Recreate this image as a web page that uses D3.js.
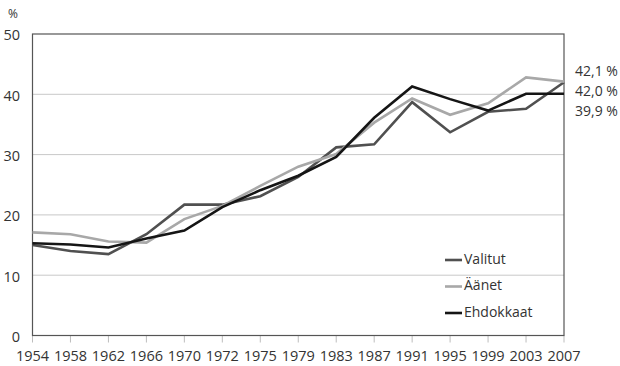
<!DOCTYPE html>
<html>
<head>
<meta charset="utf-8">
<script src="https://cdn.jsdelivr.net/npm/d3@7"></script>
<style>
  html, body { margin: 0; padding: 0; background: #fff; }
  svg { display: block; font-family: "Open Sans", "Noto Sans", sans-serif; }
</style>
</head>
<body>
<svg id="chart" width="620" height="366"></svg>
<script>
const years = ['1954','1958','1962','1966','1970','1972','1975','1979','1983','1987','1991','1995','1999','2003','2007'];
const valitut   = [15.0, 14.0, 13.5, 16.8, 21.7, 21.7, 23.1, 26.3, 31.2, 31.7, 38.7, 33.7, 37.1, 37.6, 42.0];
const aanet     = [17.1, 16.8, 15.6, 15.4, 19.3, 21.5, 24.8, 28.0, 30.1, 35.3, 39.3, 36.6, 38.5, 42.8, 42.1];
const ehdokkaat = [15.3, 15.1, 14.6, 16.1, 17.4, 21.3, 24.1, 26.5, 29.6, 36.1, 41.3, 39.2, 37.3, 40.1, 40.1];
const yTicks = [0, 10, 20, 30, 40, 50];
const seriesNames = ['Valitut', 'Äänet', 'Ehdokkaat'];
const endLabels = ['42,1 %', '42,0 %', '39,9 %'];

const series = [
  { name: seriesNames[0], values: valitut, color: '#505050' },
  { name: seriesNames[1], values: aanet, color: '#a8a8a8' },
  { name: seriesNames[2], values: ehdokkaat, color: '#151515' }
];

const svg = d3.select('#chart');
const mLeft = 32.5, mRight = 564, mTop = 34, mBottom = 335.5;

const x = d3.scalePoint().domain(years).range([mLeft, mRight]).padding(0);
const y = d3.scaleLinear().domain([0, 50]).range([mBottom, mTop]);

// gridlines
svg.append('g').selectAll('line').data(yTicks.filter(d => d > 0 && d < 50)).join('line')
  .attr('x1', mLeft).attr('x2', mRight)
  .attr('y1', d => y(d)).attr('y2', d => y(d))
  .attr('stroke', '#c8c8c8').attr('stroke-width', 1);

// x-axis tick marks
svg.append('g').selectAll('line').data(years).join('line')
  .attr('x1', d => x(d)).attr('x2', d => x(d))
  .attr('y1', mBottom).attr('y2', mBottom + 7)
  .attr('stroke', '#bdbdbd').attr('stroke-width', 1);

// frame
svg.append('rect')
  .attr('x', mLeft).attr('y', mTop)
  .attr('width', mRight - mLeft).attr('height', mBottom - mTop)
  .attr('fill', 'none').attr('stroke', '#555').attr('stroke-width', 1.2);

// y labels
svg.append('g').selectAll('text').data(yTicks).join('text')
  .attr('x', 20).attr('y', d => y(d) + 2.5)
  .attr('text-anchor', 'end').attr('dominant-baseline', 'middle')
  .attr('font-size', 14.5).attr('fill', '#333')
  .text(d => d);

svg.append('text').attr('x', 13).attr('y', 15).attr('text-anchor', 'middle')
  .attr('dominant-baseline', 'middle').attr('font-size', 12).attr('fill', '#333').text('%');

// x labels
svg.append('g').selectAll('text').data(years).join('text')
  .attr('x', d => x(d)).attr('y', 361)
  .attr('text-anchor', 'middle')
  .attr('font-size', 14.5).attr('fill', '#333')
  .text(d => d);

// lines
const line = d3.line().x((d, i) => x(years[i])).y(d => y(d));
svg.append('g').selectAll('path').data(series).join('path')
  .attr('d', d => line(d.values))
  .attr('fill', 'none').attr('stroke', d => d.color)
  .attr('stroke-width', 2.6).attr('stroke-linejoin', 'miter');

// legend
const lg = svg.append('g');
series.forEach((s, i) => {
  const ly = 260 + i * 26.5;
  lg.append('line').attr('x1', 445).attr('x2', 462).attr('y1', ly).attr('y2', ly)
    .attr('stroke', s.color).attr('stroke-width', 2.6);
  lg.append('text').attr('x', 464).attr('y', ly).attr('dominant-baseline', 'middle')
    .attr('font-size', 14).attr('fill', '#333').text(s.name);
});

// end labels
svg.append('g').selectAll('text').data(endLabels).join('text')
  .attr('x', 575).attr('y', (d, i) => 72 + i * 20)
  .attr('dominant-baseline', 'middle')
  .attr('font-size', 14).attr('fill', '#333')
  .text(d => d);
</script>
</body>
</html>
